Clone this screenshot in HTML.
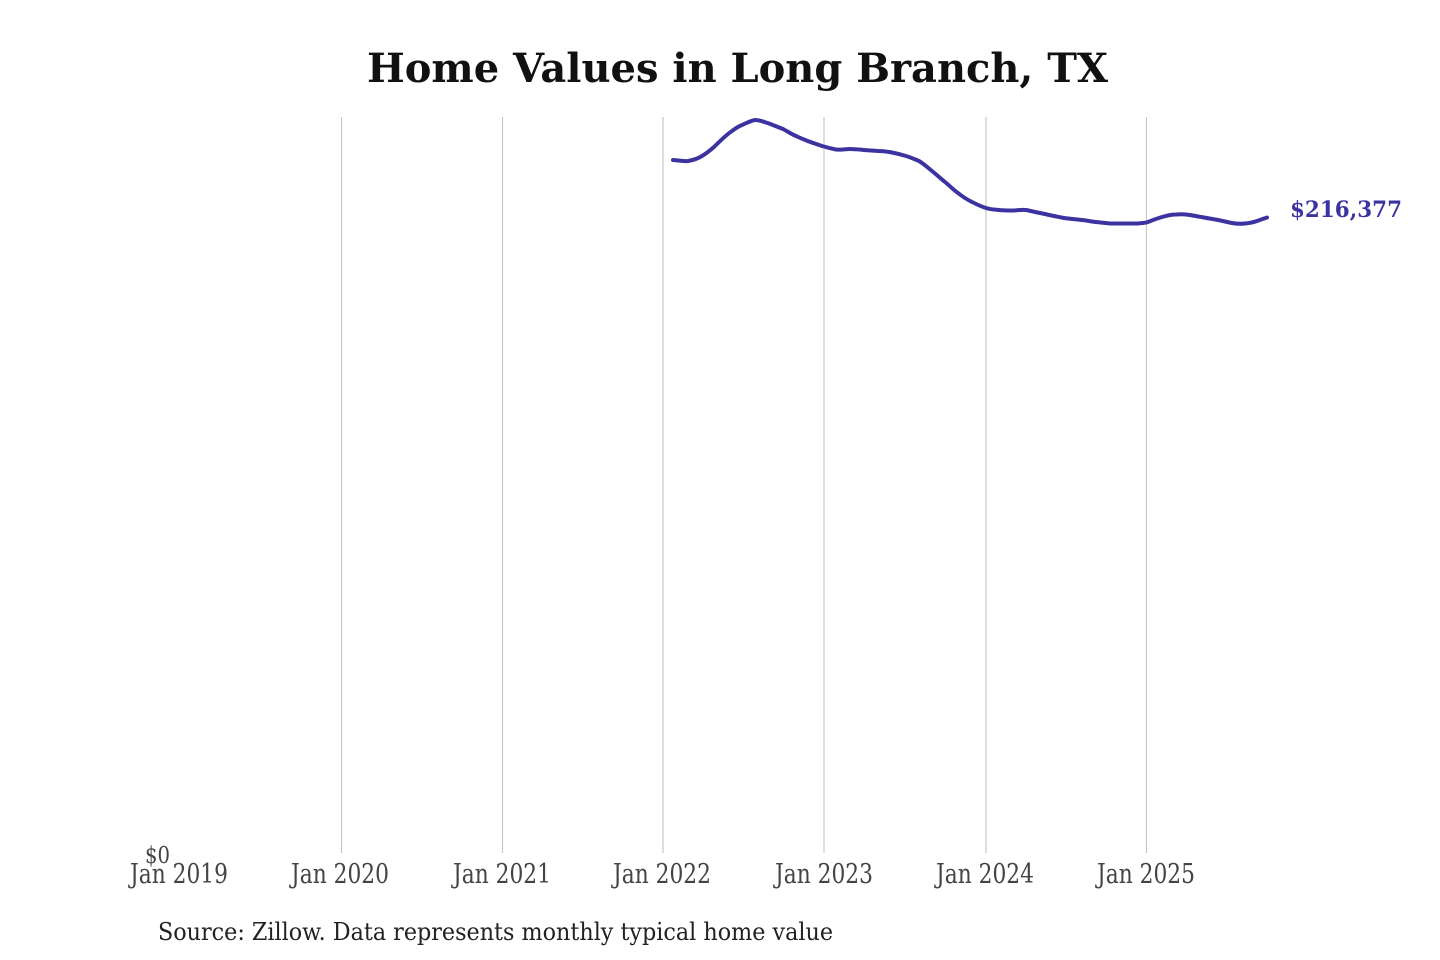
<!DOCTYPE html>
<html>
<head>
<meta charset="utf-8">
<style>
  html, body { margin: 0; padding: 0; background: #ffffff; }
  svg { display: block; }
</style>
</head>
<body>
<svg width="1440" height="960" viewBox="0 0 1440 960" xmlns="http://www.w3.org/2000/svg">
  <rect width="1440" height="960" fill="#ffffff"/>
  <text x="367" y="82" font-family="'DejaVu Serif', 'Liberation Serif', serif" font-weight="bold" font-size="40" fill="#111111" textLength="741" lengthAdjust="spacingAndGlyphs">Home Values in Long Branch, TX</text>

  <g stroke="#c8c8c8" stroke-width="1.2">
    <line x1="341.5" y1="117" x2="341.5" y2="853"/>
    <line x1="502.5" y1="117" x2="502.5" y2="853"/>
    <line x1="663" y1="117" x2="663" y2="853"/>
    <line x1="824" y1="117" x2="824" y2="853"/>
    <line x1="986" y1="117" x2="986" y2="853"/>
    <line x1="1146.5" y1="117" x2="1146.5" y2="853"/>
  </g>

  <path d="M673,160 C680,160.5 684,161.5 688,161 C694,160 698,158.5 702,156 C707,153 710,150.5 714,147 C719,142 723,138 728,134 C733,130 737,127 742,125 C747,123 751,120.5 755,120 C760,120 764,122 769,123.5 C774,125.5 778,127 783,129 C787,131 791,134 796,136 C800,138 804,139.5 809,141.5 C813,143 818,144.5 822,146 C827,147.5 831,148.5 836,149.5 C841,150 845,149 850,149 C855,149 859,149.5 864,150 C869,150.5 873,150.5 878,151 C883,151 887,151.5 892,152.5 C897,153.5 901,154.5 906,156 C911,157.5 914,159 919,161 C924,164 927,167 932,171 C937,175 940,178 945,182 C950,186 953,189.5 958,193 C963,197 967,199.5 972,202 C977,204.5 981,206.5 986,208 C991,209.5 994,209.5 999,210 C1004,210.5 1008,210.5 1012,210.5 C1017,210.5 1021,209.5 1026,210 C1031,211 1035,212 1040,213 C1045,214 1049,215 1054,216 C1059,217 1063,218 1068,218.5 C1073,219 1077,219.5 1082,220 C1087,220.5 1091,221.5 1096,222 C1101,222.5 1105,223 1110,223.5 C1115,223.5 1119,223.5 1124,223.5 C1129,223.5 1133,223.5 1138,223.5 C1142,223 1145,223 1148,222 C1153,220 1157,218.5 1162,217 C1167,215.5 1171,214.5 1176,214.5 C1181,214 1185,214 1190,215 C1195,216 1199,216.5 1204,217.5 C1209,218.5 1213,219 1218,220 C1223,221 1227,222 1232,223 C1237,224 1240,224 1245,223.5 C1250,223 1253,222.5 1257,221 C1261,219.5 1264,218.5 1267,217.5" fill="none" stroke="#3b34a0" stroke-width="4" stroke-linecap="round" stroke-linejoin="round"/>

  <text x="1290" y="217" font-family="'DejaVu Serif', 'Liberation Serif', serif" font-weight="bold" font-size="22" fill="#3b34a0" textLength="112" lengthAdjust="spacingAndGlyphs">$216,377</text>

  <g font-family="'DejaVu Serif', 'Liberation Serif', serif" font-size="27" fill="#444444">
    <text x="145" y="863" font-size="23" textLength="25" lengthAdjust="spacingAndGlyphs">$0</text>
    <text x="130" y="883" textLength="98" lengthAdjust="spacingAndGlyphs">Jan 2019</text>
    <text x="291" y="883" textLength="98" lengthAdjust="spacingAndGlyphs">Jan 2020</text>
    <text x="453" y="883" textLength="98" lengthAdjust="spacingAndGlyphs">Jan 2021</text>
    <text x="613" y="883" textLength="98" lengthAdjust="spacingAndGlyphs">Jan 2022</text>
    <text x="775" y="883" textLength="98" lengthAdjust="spacingAndGlyphs">Jan 2023</text>
    <text x="936" y="883" textLength="98" lengthAdjust="spacingAndGlyphs">Jan 2024</text>
    <text x="1097" y="883" textLength="98" lengthAdjust="spacingAndGlyphs">Jan 2025</text>
  </g>

  <text x="158" y="940" font-family="'DejaVu Serif', 'Liberation Serif', serif" font-size="24" fill="#222222" textLength="675" lengthAdjust="spacingAndGlyphs">Source: Zillow. Data represents monthly typical home value</text>
</svg>
</body>
</html>
